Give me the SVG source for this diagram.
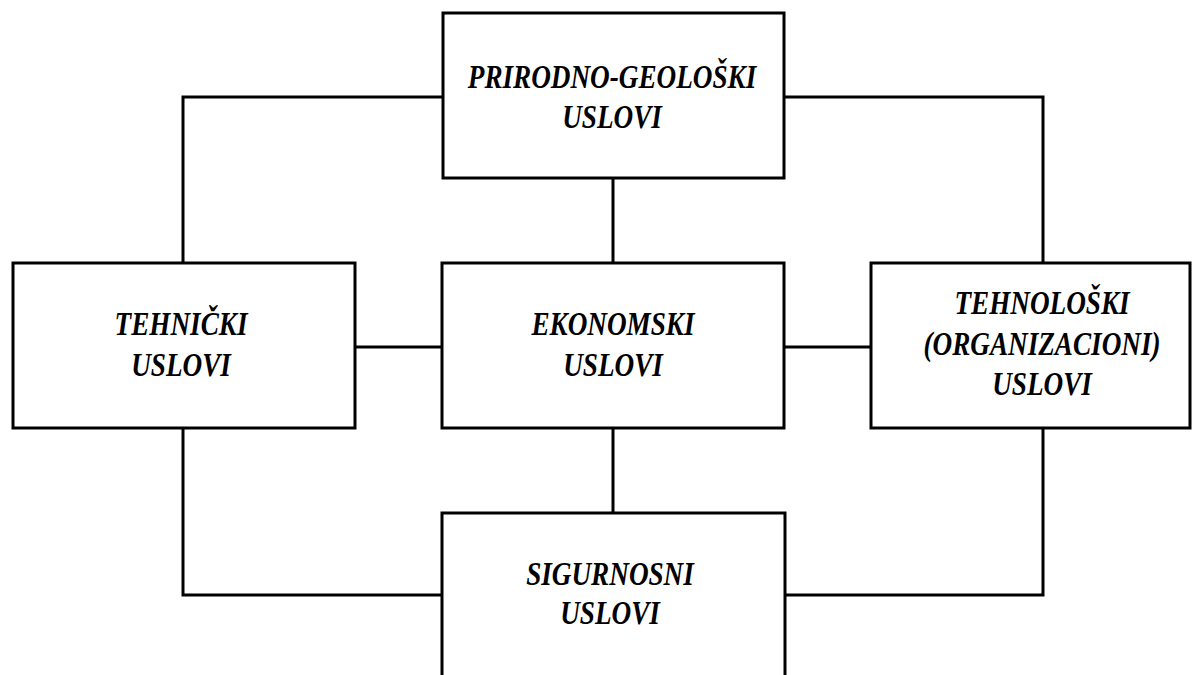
<svg xmlns="http://www.w3.org/2000/svg" width="1203" height="675" viewBox="0 0 1203 675">
<style>
.box{fill:#fff;stroke:#000;stroke-width:3}
.ln{fill:none;stroke:#000;stroke-width:3}
.t{font-family:'Liberation Serif',serif;font-weight:700;font-style:italic;font-size:34px;fill:#000;text-anchor:middle}
</style>
<rect width="1203" height="675" fill="#fff"/>
<g id="connectors">
<polyline class="ln" points="443,97 183,97 183,263"/>
<polyline class="ln" points="784,97 1043,97 1043,263"/>
<line class="ln" x1="613" y1="178" x2="613" y2="263"/>
<line class="ln" x1="355" y1="347" x2="442" y2="347"/>
<line class="ln" x1="784" y1="347" x2="871" y2="347"/>
<line class="ln" x1="613" y1="428" x2="613" y2="513"/>
<polyline class="ln" points="183,428 183,595 442,595"/>
<polyline class="ln" points="1043,428 1043,595 785,595"/>
</g>
<g id="prirodno">
<rect class="box" x="443" y="13" width="341" height="165"/>
<g class="t" transform="matrix(0.8 0 0 1 612 0)">
<text x="0" y="88">PRIRODNO-GEOLOŠKI</text>
<text x="0" y="128">USLOVI</text>
</g>
</g>
<g id="tehnicki">
<rect class="box" x="13" y="263" width="342" height="165"/>
<g class="t" transform="matrix(0.8 0 0 1 181 0)">
<text x="0" y="335">TEHNIČKI</text>
<text x="0" y="376">USLOVI</text>
</g>
</g>
<g id="ekonomski">
<rect class="box" x="442" y="263" width="342" height="165"/>
<g class="t" transform="matrix(0.8 0 0 1 613 0)">
<text x="0" y="335">EKONOMSKI</text>
<text x="0" y="376">USLOVI</text>
</g>
</g>
<g id="tehnoloski">
<rect class="box" x="871" y="263" width="319" height="165"/>
<g class="t" transform="matrix(0.8 0 0 1 1042 0)">
<text x="0" y="314">TEHNOLOŠKI</text>
<text x="0" y="355">(ORGANIZACIONI)</text>
<text x="0" y="395">USLOVI</text>
</g>
</g>
<g id="sigurnosni">
<rect class="box" x="442" y="513" width="343" height="170"/>
<g class="t" transform="matrix(0.8 0 0 1 610 0)">
<text x="0" y="585">SIGURNOSNI</text>
<text x="0" y="624">USLOVI</text>
</g>
</g>
</svg>
